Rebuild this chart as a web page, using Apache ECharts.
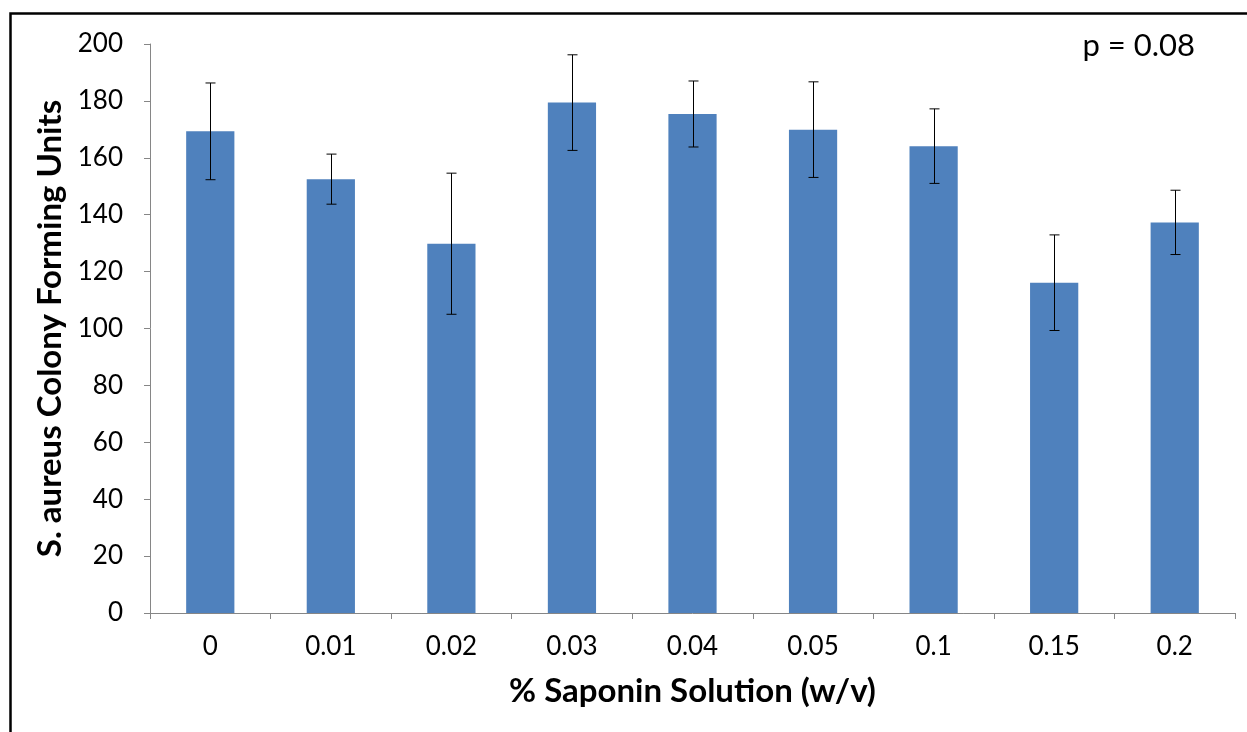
<!DOCTYPE html>
<html>
<head>
<meta charset="utf-8">
<script src="https://cdn.jsdelivr.net/npm/echarts@6/dist/echarts.min.js"></script>
<style>
html,body{margin:0;padding:0;background:#fff;}
#chart{width:1247px;height:732px;}
</style>
</head>
<body>
<div id="chart"></div>
<script>
const categories = ['0','0.01','0.02','0.03','0.04','0.05','0.1','0.15','0.2'];
const cfuMeans = [169.3, 152.5, 129.8, 179.4, 175.4, 169.9, 164.1, 116.1, 137.3];
const cfuErrors = [17.0, 8.8, 24.8, 16.8, 11.6, 16.8, 13.1, 16.8, 11.3];
const yTicks = [0, 20, 40, 60, 80, 100, 120, 140, 160, 180, 200];

const FONT = 'Lato';
const chart = echarts.init(document.getElementById('chart'));

const errorData = categories.map((c, i) => [i, cfuMeans[i] - cfuErrors[i], cfuMeans[i] + cfuErrors[i]]);

chart.setOption({
  animation: false,
  backgroundColor: '#ffffff',
  grid: { left: 150, right: 12, top: 44, bottom: 119 },
  graphic: [
    { type: 'rect', left: 8, top: 11, shape: { width: 1300, height: 800 }, style: { fill: 'none', stroke: '#000', lineWidth: 2.5 }, silent: true },
    { type: 'text', right: 52, top: 30, style: { text: 'p = 0.08', font: '31px ' + FONT, fill: '#000' } }
  ],
  xAxis: {
    type: 'category',
    data: categories,
    name: '% Saponin Solution (w/v)',
    nameLocation: 'middle',
    nameGap: 62,
    nameTextStyle: { fontFamily: FONT, fontWeight: 'bold', fontSize: 33, color: '#000' },
    axisLine: { lineStyle: { color: '#868686', width: 1 } },
    axisTick: { show: true, length: 6, lineStyle: { color: '#868686' } },
    axisLabel: { fontFamily: FONT, fontSize: 26, color: '#000', margin: 21 }
  },
  yAxis: {
    type: 'value',
    min: 0, max: 200, interval: 20,
    name: 'S. aureus Colony Forming Units',
    nameLocation: 'middle',
    nameGap: 72,
    nameTextStyle: { fontFamily: FONT, fontWeight: 'bold', fontSize: 33, color: '#000' },
    axisLine: { show: true, lineStyle: { color: '#868686', width: 1 } },
    axisTick: { show: true, length: 6, lineStyle: { color: '#868686' } },
    splitLine: { show: false },
    axisLabel: {
      fontFamily: FONT, fontSize: 26, color: '#000', margin: 27,
      formatter: v => yTicks.includes(v) ? String(v) : ''
    }
  },
  series: [
    {
      type: 'bar',
      data: cfuMeans,
      barWidth: '40%',
      itemStyle: { color: '#4F81BD' }
    },
    {
      type: 'custom',
      data: errorData,
      z: 10,
      renderItem: function (params, api) {
        const x = api.value(0);
        const lo = api.coord([x, api.value(1)]);
        const hi = api.coord([x, api.value(2)]);
        const cx = Math.round(lo[0]) + 0.5;
        const half = 5;
        const st = { stroke: '#000', lineWidth: 1 };
        return {
          type: 'group',
          children: [
            { type: 'line', shape: { x1: cx, y1: hi[1], x2: cx, y2: lo[1] }, style: st },
            { type: 'line', shape: { x1: cx - half, y1: hi[1], x2: cx + half, y2: hi[1] }, style: st },
            { type: 'line', shape: { x1: cx - half, y1: lo[1], x2: cx + half, y2: lo[1] }, style: st }
          ]
        };
      }
    }
  ]
});
</script>
</body>
</html>
